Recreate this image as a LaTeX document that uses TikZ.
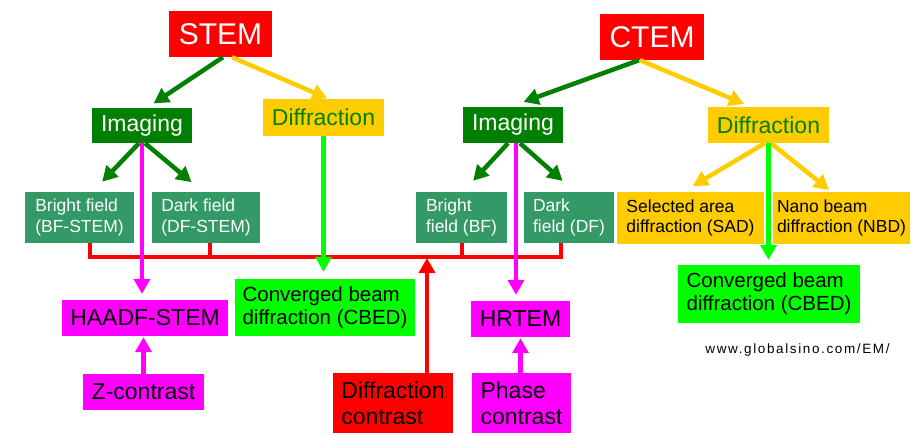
\documentclass[tikz,border=0pt]{standalone}
\usepackage{fontspec}
\setmainfont{Liberation Sans}
\newfontfamily\urlfont[LetterSpace=12]{Liberation Sans}
\usetikzlibrary{arrows.meta}

\definecolor{stemred}{RGB}{255,0,0}
\definecolor{imggreen}{RGB}{0,128,0}
\definecolor{diffgold}{RGB}{255,204,0}
\definecolor{fieldgreen}{RGB}{51,153,102}
\definecolor{hrmagenta}{RGB}{255,0,255}
\definecolor{cbedlime}{RGB}{0,255,0}

\tikzset{
 box/.style={rectangle, inner sep=0pt, align=left},
 hugefont/.style={font=\fontsize{30}{34}\selectfont},
 bigfont/.style={font=\fontsize{23}{26}\selectfont},
 midfont/.style={font=\fontsize{20.5}{23}\selectfont},
 smallfont/.style={font=\fontsize{17.5}{20.5}\selectfont},
 arr/.style={draw=#1, line width=4.5pt, -{Triangle[length=15pt,width=16pt]}},
 bus/.style={draw=stemred, line width=4pt},
}

\begin{document}
\begin{tikzpicture}[x=1pt,y=-1pt]
\useasboundingbox (0,0) rectangle (912,434);
% microscopes
\node[box, hugefont, fill=stemred, text=white, minimum width=103, minimum height=46] (stem) at (220.5,34) {STEM};
\node[box, hugefont, fill=stemred, text=white, minimum width=104, minimum height=46] (ctem) at (652,37) {CTEM};
% imaging / diffraction
\node[box, bigfont, fill=imggreen, text=white, minimum width=100, minimum height=35] (imgS) at (142,125.5) {Imaging};
\node[box, bigfont, fill=diffgold, text=imggreen, minimum width=121, minimum height=37] (diffS) at (323.5,117.5) {Diffraction};
\node[box, bigfont, fill=imggreen, text=white, minimum width=100, minimum height=36] (imgC) at (513,125) {Imaging};
\node[box, bigfont, fill=diffgold, text=imggreen, minimum width=121, minimum height=36] (diffC) at (768.5,125) {Diffraction};
% detectors and modes
\node[box, smallfont, fill=fieldgreen, text=white, minimum width=109, minimum height=51] (bfS) at (79.5,217.5) {Bright field\\(BF-STEM)};
\node[box, smallfont, fill=fieldgreen, text=white, minimum width=108, minimum height=51] (dfS) at (206,217.5) {Dark field\\(DF-STEM)};
\node[box, smallfont, fill=fieldgreen, text=white, minimum width=91, minimum height=51] (bfC) at (461.5,217.5) {Bright\\field (BF)};
\node[box, smallfont, fill=fieldgreen, text=white, minimum width=90, minimum height=51] (dfC) at (569,217.5) {Dark\\field (DF)};
\node[box, smallfont, fill=diffgold, minimum width=147, minimum height=52] (sad) at (690.5,218) {Selected area\\diffraction (SAD)};
\node[box, smallfont, fill=diffgold, minimum width=137, minimum height=52] (nbd) at (841.5,218) {Nano beam\\diffraction (NBD)};
% results
\node[box, bigfont, fill=hrmagenta, minimum width=166, minimum height=36] (haadf) at (145,318) {HAADF-STEM};
\node[box, bigfont, fill=hrmagenta, minimum width=121, minimum height=36] (zc) at (143.5,392) {Z-contrast};
\node[box, midfont, fill=cbedlime, minimum width=180, minimum height=57] (cbedS) at (325,307.5) {Converged beam\\diffraction (CBED)};
\node[box, bigfont, fill=stemred, minimum width=120, minimum height=60] (dc) at (393,403) {Diffraction\\contrast};
\node[box, bigfont, fill=hrmagenta, minimum width=99, minimum height=36] (hrtem) at (520.5,319) {HRTEM};
\node[box, bigfont, fill=hrmagenta, minimum width=99, minimum height=60] (pc) at (521.5,403) {Phase\\contrast};
\node[box, midfont, fill=cbedlime, minimum width=182, minimum height=58] (cbedC) at (769,294) {Converged beam\\diffraction (CBED)};
\node[anchor=base, inner sep=0pt, font=\urlfont\fontsize{13.5}{16}\selectfont] (url) at (797.5,353) {www.globalsino.com/EM/};

% tree arrows
\draw[arr=imggreen, shorten >=8pt] ([xshift=2.5]stem.south) -- ([xshift=5]imgS.north);
\draw[arr=diffgold, shorten >=1.5pt] ([xshift=11.5]stem.south) -- ([xshift=5]diffS.north);
\draw[arr=imggreen, shorten >=14pt] ([xshift=-3]imgS.south) -- ([xshift=13]bfS.north);
\draw[arr=imggreen, shorten >=15pt] ([xshift=3]imgS.south) -- ([xshift=-3]dfS.north);
\draw[arr=imggreen, shorten >=14.5pt] ([xshift=-13]ctem.south) -- ([xshift=-3]imgC.north);
\draw[arr=diffgold, shorten >=7.5pt] ([xshift=-12]ctem.south) -- ([xshift=-17.5]diffC.north);
\draw[arr=imggreen, shorten >=15pt] ([xshift=-5]imgC.south) -- ([xshift=1.5]bfC.north);
\draw[arr=imggreen, shorten >=16.5pt] ([xshift=7]imgC.south) -- ([xshift=6]dfC.north);
\draw[arr=diffgold, shorten >=11.5pt] ([xshift=-3.5]diffC.south) -- ([xshift=-7.5]sad.north);
\draw[arr=diffgold, shorten >=3pt] ([xshift=2.5]diffC.south) -- ([xshift=-10]nbd.north);

% diffraction contrast bus
\coordinate (busL) at (90,257);
\coordinate (busR) at (561,257);
\coordinate (dropA) at (210,257);
\coordinate (dropB) at (462,257);
\coordinate (hit) at (427,258);
\draw[bus] (bfS.south -| busL) |- (busR) -- (dfC.south -| busR);
\draw[bus] (dfS.south -| dropA) -- (dropA);
\draw[bus] (bfC.south -| dropB) -- (dropB);
\draw[arr=stemred] (dc.north -| hit) -- (hit);

% imaging and CBED arrows
\draw[arr=hrmagenta, shorten >=6pt] (imgS.south) -- (imgS.south |- haadf.north);
\draw[arr=hrmagenta, shorten >=1pt] (zc.north) -- (haadf.south -| zc.north);
\draw[arr=hrmagenta, shorten >=6pt] ([xshift=3]imgC.south) -- ([xshift=-4.5]hrtem.north);
\draw[arr=hrmagenta, shorten >=1pt] (hrtem.south |- pc.north) -- (hrtem.south);
\draw[arr=cbedlime, shorten >=7pt] (diffS.south) -- (diffS.south |- cbedS.north);
\draw[arr=cbedlime, shorten >=5pt] (diffC.south) -- (diffC.south |- cbedC.north);
\end{tikzpicture}
\end{document}
